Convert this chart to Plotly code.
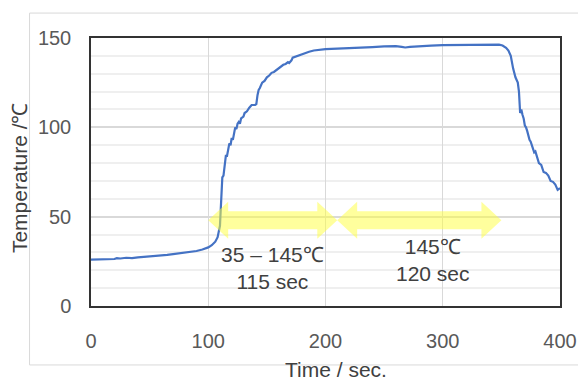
import plotly.graph_objects as go

# ---- data ----
time_s = [0, 5, 10, 15, 20, 22, 25, 30, 35, 40, 45, 50, 55, 60, 65, 70, 75, 80, 85, 90, 95,
          100, 103, 106, 108, 109, 110, 110.5, 111, 111.5, 112, 113, 114, 115, 116, 117, 118,
          119, 120, 121, 122, 123, 124, 125, 126, 127, 128, 130, 131, 133, 135, 137, 140, 141,
          142, 143, 144, 145, 146, 148, 150, 152, 154, 156, 158, 160, 162, 164, 166, 168, 169,
          170, 171, 172, 174, 176, 178, 180, 183, 186, 190, 195, 200, 205, 210, 220, 230, 240,
          250, 260, 265, 268, 272, 280, 290, 300, 310, 320, 330, 340, 348, 351, 354, 356, 358,
          360, 362, 364, 365, 366, 367, 368, 369, 370, 371, 372, 373, 374, 375, 376, 377, 378,
          379, 380, 381, 382, 384, 386, 388, 390, 392, 394, 396, 398, 400]
temp_c = [26, 26, 26, 26, 26.3, 26.8, 26.6, 27, 26.8, 27.2, 27.4, 27.6, 27.9, 28.3, 28.6, 29,
          29.4, 29.8, 30.2, 30.8, 31.6, 32.8, 34, 36, 38.5, 41, 45, 52, 60, 68, 72, 73, 80, 84,
          84, 88, 91, 90, 94, 93, 97, 100, 99, 102, 103, 102, 105, 106, 108, 109, 111, 112.5,
          112.5, 113, 118, 121, 122, 124, 125, 126, 128, 129, 130.5, 131, 132, 133.5, 134, 135,
          135.5, 136.5, 136, 136.5, 137.5, 139, 139.5, 140, 140.5, 141, 141.8, 142.3, 143, 143.6,
          143.8, 143.9, 144, 144.3, 144.6, 144.9, 145.3, 145.4, 145.0, 144.7, 145.0, 145.5, 145.7,
          146, 146.1, 146.2, 146.3, 146.3, 146.3, 145.8, 144.5, 143, 140, 133, 128, 125, 120, 108,
          110, 107, 105, 101, 100, 98, 95, 93, 92, 90, 88, 86, 86.5, 84, 83, 80, 79, 75, 74.5,
          73, 70, 69.5, 68, 65, 66]

x_ticks = [0, 100, 200, 300, 400]
y_ticks = [0, 50, 100, 150]

arrow_spans = [(100, 210), (210, 350)]
arrow_level = 48
labels = [(155, 21, "35 – 145℃<br>115 sec"), (292, 25.5, "145℃<br>120 sec")]

FONT = "Liberation Sans, Arial"

# ---- figure ----
fig = go.Figure()
fig.add_trace(go.Scatter(x=time_s, y=temp_c, mode="lines",
                         line=dict(color="#4472C4", width=2.2), hoverinfo="skip"))

# double-headed arrows as filled paths
head_len = 17
head_half = 10.4
shaft_half = 5.0
for a, b in arrow_spans:
    y = arrow_level
    pts = [(a, y), (a + head_len, y + head_half), (a + head_len, y + shaft_half),
           (b - head_len, y + shaft_half), (b - head_len, y + head_half), (b, y),
           (b - head_len, y - head_half), (b - head_len, y - shaft_half),
           (a + head_len, y - shaft_half), (a + head_len, y - head_half)]
    path = "M " + " L ".join(f"{px},{py}" for px, py in pts) + " Z"
    fig.add_shape(type="path", path=path, xref="x", yref="y",
                  fillcolor="rgba(255,255,60,0.5)", line=dict(width=0), layer="above")

for xv, yv, txt in labels:
    fig.add_annotation(x=xv, y=yv, text=txt, showarrow=False, xref="x", yref="y",
                       font=dict(size=21, color="#404040", family=FONT),
                       align="center")

# outer light frame
fig.add_shape(type="rect", xref="paper", yref="paper", x0=-0.131, x1=1.05, y0=-0.22, y1=1.093,
              line=dict(color="#d9d9d9", width=1), fillcolor="rgba(0,0,0,0)", layer="below")

fig.add_annotation(x=0.522, y=-0.236, xref="paper", yref="paper", text="Time / sec.",
                   showarrow=False, yanchor="middle",
                   font=dict(size=21, color="#404040", family=FONT))
fig.add_annotation(x=-0.152, y=0.48, xref="paper", yref="paper", text="Temperature /℃",
                   showarrow=False, textangle=-90, xanchor="center", yanchor="middle",
                   font=dict(size=21, color="#404040", family=FONT))

fig.update_layout(
    width=578, height=383,
    margin=dict(l=91, r=18, t=38, b=77),
    paper_bgcolor="white", plot_bgcolor="white",
    showlegend=False,
    font=dict(family=FONT, size=20, color="#595959"),
    xaxis=dict(range=[0, 400], tickvals=x_ticks, showgrid=True, gridcolor="#d9d9d9",
               gridwidth=1, showline=True, linecolor="#333333", linewidth=1.5, mirror=True,
               zeroline=False, ticks="outside", ticklen=16, tickcolor="rgba(0,0,0,0)",
               automargin=False, tickfont=dict(size=20, color="#595959")),
    yaxis=dict(range=[0, 150], tickvals=y_ticks, showgrid=True, gridcolor="#d9d9d9",
               gridwidth=1.5, showline=True, linecolor="#333333", linewidth=1.5, mirror=True,
               zeroline=False, ticks="outside", ticklen=14, tickcolor="rgba(0,0,0,0)",
               automargin=False, tickfont=dict(size=20, color="#595959"),
               minor=dict(dtick=10, showgrid=True, gridcolor="#efefef", gridwidth=1.5)),
)

fig.write_html("out.html", config={"displayModeBar": False},
               post_script="document.body.style.margin='0';document.body.style.overflow='hidden';")
